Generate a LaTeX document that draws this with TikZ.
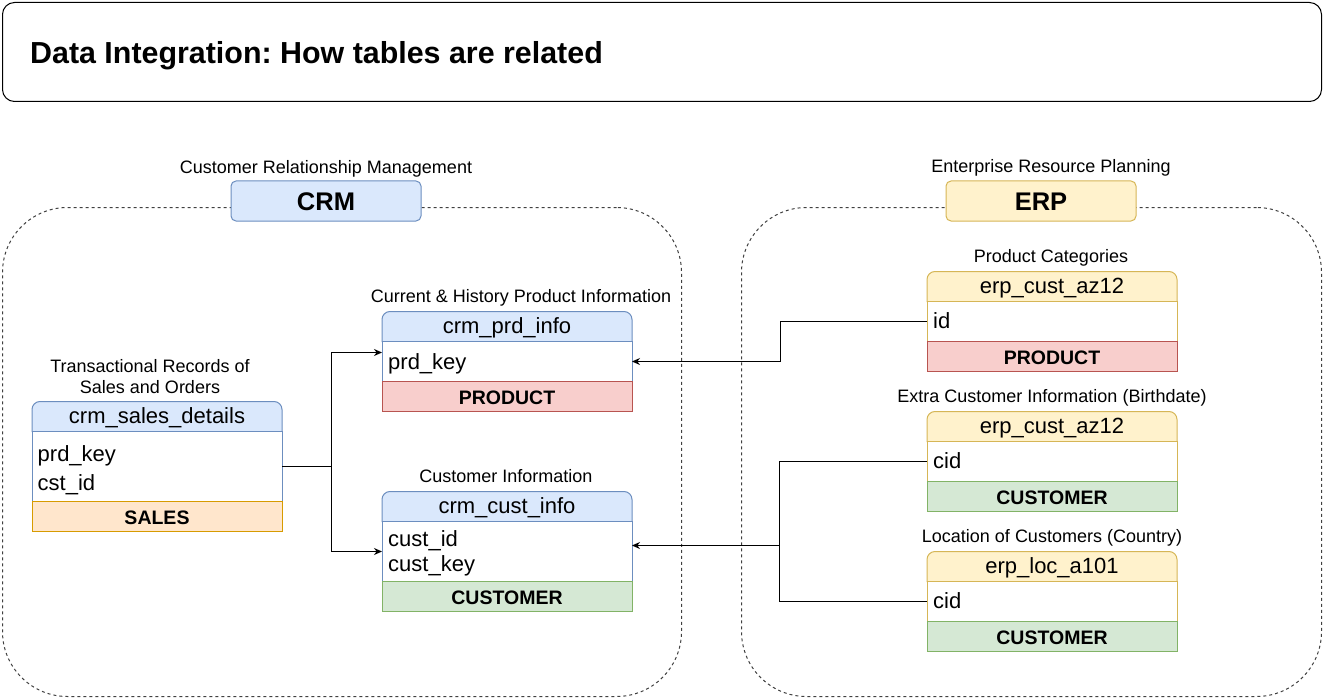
\documentclass[tikz,border=0pt]{standalone}
\usepackage{fontspec}
\setmainfont{Liberation Sans}
\frenchspacing
\usetikzlibrary{arrows.meta, positioning, backgrounds}

\definecolor{crmfill}{HTML}{DAE8FC}
\definecolor{crmline}{HTML}{6C8EBF}
\definecolor{erpfill}{HTML}{FFF2CC}
\definecolor{erpline}{HTML}{D6B656}
\definecolor{prdfill}{HTML}{F8CECC}
\definecolor{prdline}{HTML}{B85450}
\definecolor{custfill}{HTML}{D5E8D4}
\definecolor{custline}{HTML}{82B366}
\definecolor{salesfill}{HTML}{FFE6CC}
\definecolor{salesline}{HTML}{D79B00}

% rounded top of a table header, drawn behind the header text
\newcommand{\drawhead}[3]{%
  \begin{scope}[on background layer]
    \filldraw[fill=#2, draw=#3, line width=1pt] (#1.south west)
      -- ([yshift=-8pt]#1.north west) arc[start angle=180, end angle=90, radius=8pt]
      -- ([xshift=-8pt]#1.north east) arc[start angle=90, end angle=0, radius=8pt]
      -- (#1.south east) -- cycle;
  \end{scope}}

\tikzset{
  lbl/.style={font=\fontsize{18}{21}\selectfont, align=center, inner sep=0pt, anchor=base},
  region/.style={draw=black!75, dash pattern=on 3pt off 3pt, line width=1pt,
    rounded corners=65pt, anchor=north west, inner sep=0pt},
  tag/.style={minimum width=190pt, minimum height=40pt, rounded corners=5pt,
    line width=1pt, inner sep=0pt, font=\bfseries\fontsize{25.5}{30}\selectfont,
    text height=18pt, text depth=0pt},
  tblhead/.style={minimum width=250pt, minimum height=30pt, inner sep=0pt,
    outer sep=0pt, anchor=north west, font=\fontsize{22}{26}\selectfont,
    text height=15pt, text depth=1pt},
  tblbody/.style={fill=white, line width=1pt, minimum width=250pt,
    inner sep=0pt, outer sep=0pt},
  tblfoot/.style={line width=1pt, minimum width=250pt, minimum height=30pt,
    inner sep=0pt, outer sep=0pt, font=\bfseries\fontsize{19.5}{23}\selectfont,
    text height=15pt, text depth=0pt},
  field/.style={anchor=base west, inner sep=0pt, font=\fontsize{22}{26}\selectfont},
  link/.style={draw=black, line width=1pt}
}

\begin{document}
\begin{tikzpicture}[x=1pt, y=-1pt, >={Stealth[length=8pt, width=7pt]}]
\useasboundingbox (0,0) rectangle (1323,698);

% banner
\node[draw, line width=1pt, rounded corners=12pt, minimum width=1319pt,
  minimum height=99pt, anchor=north west, inner sep=0pt] (banner) at (2,2) {};
\node[anchor=base west, inner sep=0pt, font=\bfseries\fontsize{30.4}{36}\selectfont]
  (banner-txt) at (30,63.3) {Data Integration: How tables are related};

% source systems
\node[region, minimum width=679pt, minimum height=489pt] (crm) at (2,207) {};
\node[region, minimum width=580pt, minimum height=489pt] (erp) at (741,207) {};
\node[tag, fill=crmfill, draw=crmline] (crm-tag) at (326,201) {CRM};
\node[lbl] (crm-name) at (326,173.3) {Customer Relationship Management};
\node[tag, fill=erpfill, draw=erpline] (erp-tag) at (1041,201) {ERP};
\node[lbl] (erp-name) at (1051,173) {Enterprise Resource Planning};

% crm_sales_details
\node[lbl, anchor=center] (sd-lbl) at (150,377) {Transactional Records of\\Sales and Orders};
\node[tblhead] (sd-h) at (32,401.5) {crm\_sales\_details};
\node[tblbody, draw=crmline, minimum height=70pt, below=0pt of sd-h] (sd-b) {};
\node[tblfoot, fill=salesfill, draw=salesline, below=0pt of sd-b] (sd-f) {SALES};
\node[field] (sd-prd) at (37.5,461.5) {prd\_key};
\node[field] (sd-cst) at (37.5,490) {cst\_id};
\drawhead{sd-h}{crmfill}{crmline}

% crm_prd_info
\node[lbl] (pi-lbl) at (521,302.7) {Current \& History Product Information};
\node[tblhead] (pi-h) at (382,311.5) {crm\_prd\_info};
\node[tblbody, draw=crmline, minimum height=40pt, below=0pt of pi-h] (pi-b) {};
\node[tblfoot, fill=prdfill, draw=prdline, below=0pt of pi-b] (pi-f) {PRODUCT};
\node[field] (pi-prd) at (388,369) {prd\_key};
\drawhead{pi-h}{crmfill}{crmline}

% crm_cust_info
\node[lbl] (ci-lbl) at (506,482.7) {Customer Information};
\node[tblhead] (ci-h) at (382,491.5) {crm\_cust\_info};
\node[tblbody, draw=crmline, minimum height=60pt, below=0pt of ci-h] (ci-b) {};
\node[tblfoot, fill=custfill, draw=custline, below=0pt of ci-b] (ci-f) {CUSTOMER};
\node[field] (ci-id) at (388,546) {cust\_id};
\node[field] (ci-key) at (388,571.5) {cust\_key};
\drawhead{ci-h}{crmfill}{crmline}

% erp_cust_az12 (categories)
\node[lbl] (pc-lbl) at (1051,262.7) {Product Categories};
\node[tblhead] (pc-h) at (927,271.5) {erp\_cust\_az12};
\node[tblbody, draw=erpline, minimum height=40pt, below=0pt of pc-h] (pc-b) {};
\node[tblfoot, fill=prdfill, draw=prdline, below=0pt of pc-b] (pc-f) {PRODUCT};
\node[field] (pc-id) at (933,328.3) {id};
\drawhead{pc-h}{erpfill}{erpline}

% erp_cust_az12 (birthdate)
\node[lbl] (ec-lbl) at (1052,402.7) {Extra Customer Information (Birthdate)};
\node[tblhead] (ec-h) at (927,411.5) {erp\_cust\_az12};
\node[tblbody, draw=erpline, minimum height=40pt, below=0pt of ec-h] (ec-b) {};
\node[tblfoot, fill=custfill, draw=custline, below=0pt of ec-b] (ec-f) {CUSTOMER};
\node[field] (ec-cid) at (933,468.3) {cid};
\drawhead{ec-h}{erpfill}{erpline}

% erp_loc_a101
\node[lbl] (lc-lbl) at (1052,542.7) {Location of Customers (Country)};
\node[tblhead] (lc-h) at (927,551.5) {erp\_loc\_a101};
\node[tblbody, draw=erpline, minimum height=40pt, below=0pt of lc-h] (lc-b) {};
\node[tblfoot, fill=custfill, draw=custline, below=0pt of lc-b] (lc-f) {CUSTOMER};
\node[field] (lc-cid) at (933,608.3) {cid};
\drawhead{lc-h}{erpfill}{erpline}

% relations
\coordinate (crm-split) at (331.5,466.5);
\draw[link] (sd-b.east) -- (crm-split);
\draw[link, ->] (crm-split) |- ([yshift=9pt]pi-b.west);
\draw[link, ->] (crm-split) |- (ci-b.west);

\draw[link, ->] (pc-b.west) -- ++(-147,0) |- (pi-b.east);

\coordinate (erp-join) at (779.5,545.5);
\draw[link] (ec-b.west) -| (erp-join);
\draw[link] (lc-b.west) -| (erp-join);
\draw[link, ->] (erp-join) -- (erp-join -| ci-b.east);
\end{tikzpicture}
\end{document}
